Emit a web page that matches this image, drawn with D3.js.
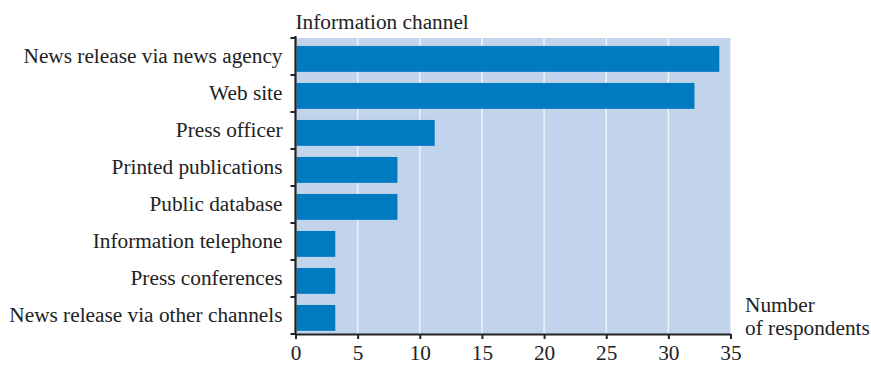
<!DOCTYPE html>
<html><head><meta charset="utf-8">
<script src="https://cdn.jsdelivr.net/npm/d3@7"></script>
<style>body{margin:0;background:#fff}svg{display:block}svg text{font-family:'Liberation Serif','Tinos','Times New Roman','DejaVu Serif',serif !important;fill:#222}</style>
</head><body>
<svg id="c" width="871" height="365"></svg>
<script>
const categories = ["News release via news agency","Web site","Press officer","Printed publications","Public database","Information telephone","Press conferences","News release via other channels"];
const values = [34.1, 32.1, 11.2, 8.2, 8.2, 3.2, 3.2, 3.2];
const xTicks = [0,5,10,15,20,25,30,35];
const yTitle = "Information channel";
const xTitle = ["Number","of respondents"];

const FF = "'Liberation Serif','Tinos','Times New Roman','DejaVu Serif',serif";
const FS = 21.3;
const svg = d3.select("#c");
const L = 295.5, R = 730.5, T = 38, B = 334;
const x = d3.scaleLinear().domain([0,35]).range([L,R]);
const y = d3.scaleBand().domain(categories).range([T,B]).padding(0);
const bw = y.bandwidth();

svg.append("rect").attr("x",L).attr("y",T).attr("width",R-L).attr("height",B-T).attr("fill","#c1d4eb");
svg.append("g").selectAll("line").data(xTicks.slice(1,-1)).join("line")
  .attr("x1",d=>x(d)).attr("x2",d=>x(d)).attr("y1",T).attr("y2",B)
  .attr("stroke","#eef3fa").attr("stroke-width",1.5);
svg.append("g").selectAll("rect").data(values).join("rect")
  .attr("x",x(0)+1).attr("y",(d,i)=>y(categories[i])+bw*0.215)
  .attr("width",d=>x(d)-x(0)-1).attr("height",bw*0.7)
  .attr("fill","#007bc2");

// y axis
const ya = svg.append("g");
ya.append("line").attr("x1",L).attr("x2",L).attr("y1",T-2).attr("y2",B).attr("stroke","#222").attr("stroke-width",2.2);
ya.selectAll("line.t").data(d3.range(categories.length+1)).join("line").attr("class","t")
  .attr("x1",L-5).attr("x2",L).attr("y1",i=>T+i*bw).attr("y2",i=>T+i*bw)
  .attr("stroke","#222").attr("stroke-width",2);
ya.selectAll("text").data(categories).join("text")
  .attr("x",L-13).attr("y",d=>y(d)+bw/2+6.5).attr("text-anchor","end")
  .attr("font-family",FF).attr("font-size",FS).text(d=>d);

// x axis
const xa = svg.append("g").attr("transform",`translate(0,${B})`)
  .call(d3.axisBottom(x).tickValues(xTicks).tickSize(5).tickPadding(6).tickSizeOuter(0));
xa.attr("font-family",FF);
xa.select(".domain").attr("stroke","#222").attr("stroke-width",2.2);
xa.selectAll(".tick line").attr("stroke","#222").attr("stroke-width",2);
xa.selectAll(".tick text").attr("font-size",FS).attr("fill","#222");

svg.append("text").attr("x",L).attr("y",29).attr("font-family",FF).attr("font-size",FS).text(yTitle);
svg.append("text").attr("x",745).attr("y",311.5).attr("font-family",FF).attr("font-size",FS).text(xTitle[0]);
svg.append("text").attr("x",745).attr("y",335).attr("font-family",FF).attr("font-size",FS).text(xTitle[1]);
</script>
</body></html>
